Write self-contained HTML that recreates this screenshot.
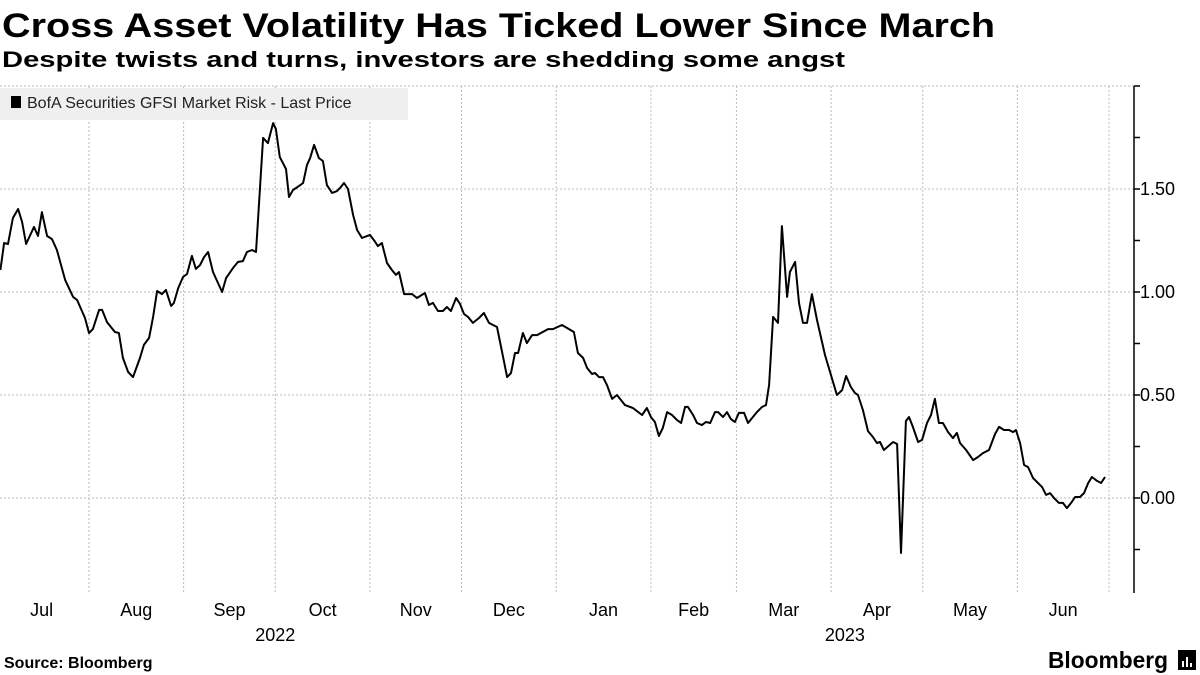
<!DOCTYPE html>
<html><head><meta charset="utf-8">
<style>
html,body{margin:0;padding:0;background:#fff;}
svg{display:block;font-family:"Liberation Sans",sans-serif;}
</style></head>
<body>
<svg id="chart" width="1200" height="675" viewBox="0 0 1200 675">
<text x="2" y="37" font-size="34" font-weight="bold" fill="#000" textLength="993" lengthAdjust="spacingAndGlyphs">Cross Asset Volatility Has Ticked Lower Since March</text>
<text x="2" y="67" font-size="22" font-weight="bold" fill="#000" textLength="843" lengthAdjust="spacingAndGlyphs">Despite twists and turns, investors are shedding some angst</text>
<g id="grid"></g>
<g id="axes"></g>
<path id="line" fill="none" stroke="#000" stroke-width="2" stroke-linejoin="round"></path>
<g>
<rect x="0" y="88" width="408" height="32" fill="#efefef"></rect>
<rect x="11" y="96" width="10" height="12" fill="#000"></rect>
<text x="27" y="108" font-size="16" fill="#222">BofA Securities GFSI Market Risk - Last Price</text>
</g>
<text x="4" y="668" font-size="16" font-weight="bold" fill="#000">Source: Bloomberg</text>
<text x="1048" y="668" font-size="23" font-weight="bold" fill="#000" textLength="120" lengthAdjust="spacingAndGlyphs">Bloomberg</text>
<g>
<rect x="1178" y="650" width="18" height="20" fill="#000"></rect>
<rect x="1182" y="661" width="2" height="6" fill="#fff"></rect>
<rect x="1186" y="657" width="2" height="10" fill="#fff"></rect>
<rect x="1190" y="663" width="2" height="4" fill="#fff"></rect>
</g>
</svg>
<script>
const days = [2,3.2,4.5,6.1,7.8,9.1,10.4,13,14.3,15.6,17.3,18.9,20.5,23.2,25.8,27.1,29.7,31,32.3,34.3,35.3,36.9,39.5,40.8,42.1,43.8,45.4,47.7,49,50.7,52,53.3,54.9,56.2,57.9,58.8,60.2,61.8,63.1,64.7,66,67.4,68.7,70,71.6,74.6,75.9,78.2,79.8,81.4,82.7,84.4,85.7,88,89.6,91.3,92.2,93.5,95.5,96.5,97.8,99.8,101.1,102.4,103.4,104.7,106.3,107.6,108.9,110.6,112.2,113.5,114.5,115.8,117.5,118.8,120.4,123,124.3,125.6,126.9,128.6,130.2,131.5,132.5,134.2,136.8,138.4,141,142.3,143.6,145.3,146.9,148.2,149.5,151.2,152.5,153.8,155.1,156.7,158.7,160.3,162,163.3,164.6,166.6,167.9,169.2,170.5,171.5,173.1,174.4,176.1,177.7,181.3,182.9,185.9,189.8,191.1,192.8,194.1,195.7,196.7,198,199.3,200.6,202.3,203.9,206.5,209.1,212.1,213.7,215,216.3,217.6,218.9,220.3,221.9,223.5,224.9,226.2,227.1,228.8,230.1,231.7,233,234.4,236,237,238.6,239.9,241.2,242.5,243.8,245.5,246.8,249.7,251.4,252.7,253.7,255,256.6,257.9,259.6,260.5,262.2,263.5,264.8,266.1,267.7,269.4,272,275.9,277.6,278.9,280.5,281.8,282.8,284.4,286.1,287.7,289,290,291.3,294.3,295.6,296.9,298.5,299.5,300.8,302.5,303.8,305.4,306.7,308,309.3,310.6,312.3,313.9,315.2,316.2,318.2,320.5,322.1,323.7,325.7,327.7,329,330.6,332.3,333.6,334.5,335.9,337.2,338.5,340.1,343.1,344.4,345.7,347,348.6,349.9,351.2,352.6,353.9,355.5,356.8,358.2,359.4,361.1,362.4,363.7];
const values = [1.107,1.238,1.233,1.359,1.403,1.340,1.233,1.316,1.272,1.388,1.272,1.257,1.204,1.058,0.976,0.961,0.874,0.801,0.820,0.913,0.913,0.854,0.806,0.801,0.680,0.612,0.587,0.680,0.743,0.777,0.879,1.005,0.990,1.010,0.932,0.947,1.019,1.073,1.087,1.175,1.112,1.131,1.170,1.194,1.097,1.000,1.068,1.117,1.146,1.150,1.194,1.204,1.194,1.748,1.723,1.820,1.791,1.655,1.597,1.461,1.495,1.515,1.529,1.617,1.650,1.714,1.650,1.636,1.519,1.481,1.490,1.510,1.529,1.500,1.374,1.301,1.262,1.277,1.252,1.223,1.238,1.141,1.107,1.083,1.097,0.990,0.990,0.971,0.995,0.937,0.947,0.908,0.908,0.927,0.908,0.971,0.942,0.893,0.879,0.850,0.874,0.898,0.850,0.840,0.830,0.684,0.587,0.607,0.704,0.704,0.801,0.752,0.791,0.791,0.820,0.820,0.840,0.806,0.704,0.680,0.631,0.602,0.607,0.587,0.587,0.549,0.481,0.500,0.451,0.437,0.403,0.437,0.393,0.369,0.301,0.340,0.417,0.403,0.379,0.364,0.442,0.442,0.403,0.364,0.354,0.369,0.364,0.417,0.417,0.393,0.417,0.383,0.369,0.413,0.413,0.364,0.417,0.442,0.451,0.549,0.879,0.850,1.320,0.976,1.097,1.146,0.947,0.850,0.850,0.990,0.864,0.694,0.500,0.524,0.592,0.539,0.510,0.500,0.427,0.325,0.296,0.267,0.272,0.233,0.272,0.262,-0.267,0.374,0.393,0.345,0.272,0.282,0.364,0.403,0.481,0.364,0.364,0.320,0.291,0.316,0.267,0.233,0.184,0.199,0.218,0.233,0.311,0.345,0.330,0.330,0.320,0.330,0.267,0.160,0.150,0.097,0.053,0.015,0.024,0.000,-0.024,-0.024,-0.049,-0.024,0.005,0.005,0.024,0.073,0.102,0.083,0.073,0.102];
const yTicks = [0, 0.5, 1.0, 1.5];
const yTickLabels = ["0.00","0.50","1.00","1.50"];
const monthLabels = ["Jul","Aug","Sep","Oct","Nov","Dec","Jan","Feb","Mar","Apr","May","Jun"];
const monthStartDays = [0,31,62,92,123,153,184,215,243,274,304,335,365];
const yearLabels = ["2022","2023"];
const yearCenterDays = [92,278.5];

const NS="http://www.w3.org/2000/svg";
const X0=-5.7, PXD=3.054, Y0=498, PXV=206, TOP=86, BOT=593, AXX=1134;
function xs(d){return X0+d*PXD;}
function ys(v){return Y0-v*PXV;}
function mk(tag,attrs,parent){const e=document.createElementNS(NS,tag);for(const k in attrs)e.setAttribute(k,attrs[k]);parent.appendChild(e);return e;}
const grid=document.getElementById('grid'), axes=document.getElementById('axes');
for(let v=2.0; v>=-0.01; v-=0.5){
  const g=mk('line',{x1:0,x2:AXX,y1:ys(v),y2:ys(v),stroke:'#bbb','stroke-dasharray':'2,2','stroke-width':1},grid);
  
  
}
for(let i=1;i<monthStartDays.length;i++){
  const x=xs(monthStartDays[i]);
  const g=mk('line',{x1:x,x2:x,y1:TOP,y2:BOT,stroke:'#bbb','stroke-dasharray':'2,2','stroke-width':1},grid);
  
  
}
const ax=mk('line',{x1:AXX,x2:AXX,y1:TOP,y2:BOT,stroke:'#000','stroke-width':1.5},axes);


for(let v=-0.25; v<=2.0; v+=0.25){
  const t=mk('line',{x1:AXX,x2:AXX+6,y1:ys(v),y2:ys(v),stroke:'#000','stroke-width':1.5},axes);
  
  
}
yTicks.forEach((v,i)=>{
  const t=mk('text',{x:1140,y:ys(v)+6,'font-size':18,fill:'#000'},axes);
  t.textContent=yTickLabels[i];
  
  
});
monthLabels.forEach((m,i)=>{
  const cx=(xs(monthStartDays[i])+xs(monthStartDays[i+1]))/2;
  const t=mk('text',{x:cx,y:616,'font-size':18,fill:'#000','text-anchor':'middle'},axes);
  t.textContent=m;
  
  
});
yearLabels.forEach((y,i)=>{
  const t=mk('text',{x:xs(yearCenterDays[i]),y:641,'font-size':18,fill:'#000','text-anchor':'middle'},axes);
  t.textContent=y;
  
  
});
let d='';
days.forEach((dd,i)=>{d+=(i?'L':'M')+xs(dd).toFixed(1)+','+ys(values[i]).toFixed(1);});
document.getElementById('line').setAttribute('d',d);
</script>
</body></html>
